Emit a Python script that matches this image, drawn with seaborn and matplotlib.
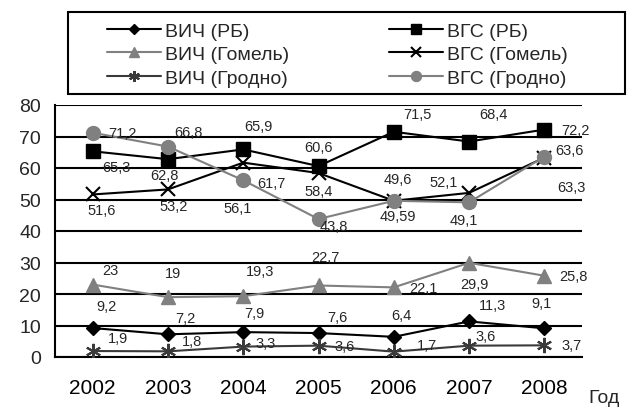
# Line chart: HIV / HCV rates 2002-2008 (РБ, Гомель, Гродно)
import matplotlib
matplotlib.use("Agg")
import matplotlib.pyplot as plt
import seaborn as sns
from matplotlib.patches import Rectangle

# data
years = [2002, 2003, 2004, 2005, 2006, 2007, 2008]
hiv_rb = [9.2, 7.2, 7.9, 7.6, 6.4, 11.3, 9.1]
hiv_gomel = [23, 19, 19.3, 22.7, 22.1, 29.9, 25.8]
hiv_grodno = [1.9, 1.8, 3.3, 3.6, 1.7, 3.6, 3.7]
hcv_rb = [65.3, 62.8, 65.9, 60.6, 71.5, 68.4, 72.2]
hcv_gomel = [51.6, 53.2, 61.7, 58.4, 49.6, 52.1, 63.3]
hcv_grodno = [71.2, 66.8, 56.1, 43.8, 49.59, 49.1, 63.6]
series_names = ["ВИЧ (РБ)", "ВИЧ (Гомель)", "ВИЧ (Гродно)",
                "ВГС (РБ)", "ВГС (Гомель)", "ВГС (Гродно)"]
series_values = [hiv_rb, hiv_gomel, hiv_grodno, hcv_rb, hcv_gomel, hcv_grodno]

# styles: color, marker, size, edge width
styles = [
    ("black", "D", 7.5, 1.0),
    ("#808080", "^", 10, 1.0),
    ("#3a3a3a", (6, 2, 0), 11, 1.5),
    ("black", "s", 10, 1.0),
    ("black", "x", 10, 1.5),
    ("#808080", "o", 10, 1.0),
]

# data label offsets in pixels (dx right, dy down), like Excel placed them
label_offsets = [
    [(14, -22), (17, -16), (11, -19), (19, -16), (8, -22), (23, -16), (-3, -25)],
    [(18, -15), (5, -24), (17, -25), (7, -28), (30, 1), (5, 21), (29, 0)],
    [(25, -13), (24, -10), (22, -4), (26, 0), (33, -7), (17, -10), (27, 0)],
    [(24, 16), (-3, 16), (15, -23), (0, -19), (24, -18), (24, -28), (31, 0)],
    [(9, 16), (6, 17), (28, 20), (0, 18), (4, -22), (-25, -11), (27, 29)],
    [(30, 0), (21, -15), (-6, 28), (15, 7), (4, 15), (-5, 18), (25, -7)],
]

sns.set_style("white")
plt.rcParams["font.family"] = ["Liberation Sans", "DejaVu Sans"]

fig = plt.figure(figsize=(6.32, 4.10), dpi=100)
ax = fig.add_axes([55 / 632, 1 - 358 / 410, (582 - 55) / 632, (358 - 106) / 410])

for i, (name, vals) in enumerate(zip(series_names, series_values)):
    color, marker, ms, mew = styles[i]
    sns.lineplot(x=years, y=vals, ax=ax, color=color, marker=marker,
                 markersize=ms, markeredgecolor=color, markerfacecolor=color,
                 markeredgewidth=mew, linewidth=1.5, label=name, zorder=3 + i)
    for x, v, (dx, dy) in zip(years, vals, label_offsets[i]):
        ax.annotate(f"{v:g}".replace(".", ","), (x, v), xytext=(dx, -dy),
                    textcoords="offset pixels", ha="center", va="center",
                    fontsize=10.5, zorder=10)

handles, labels = ax.get_legend_handles_labels()
ax.get_legend().remove()

ax.set_xlim(2001.5, 2008.5)
ax.set_ylim(0, 80)
ax.set_yticks(range(0, 81, 10))
ax.set_xticks(years)
ax.set_xticks([y + 0.5 for y in [2001] + years], minor=True)
ax.tick_params(axis="x", which="major", length=0, labelsize=15, pad=15, colors="black")
ax.tick_params(axis="x", which="minor", length=6, width=1.5, direction="out", color="black")
ax.tick_params(axis="y", length=7, width=1.5, direction="out", labelsize=14,
               color="black", pad=3)
ax.yaxis.grid(True, color="black", linewidth=1.5, zorder=1)
ax.xaxis.grid(False)
ax.set_xlabel("")
ax.set_ylabel("")
for side in ["top", "right"]:
    ax.spines[side].set_visible(False)
for side in ["left", "bottom"]:
    ax.spines[side].set_color("black")
    ax.spines[side].set_linewidth(1.5)

# legend in a plain box above the plot
fig.patches.append(Rectangle((68 / 632, 1 - 95 / 410), (625 - 68) / 632, (95 - 13) / 410,
                             transform=fig.transFigure, fill=False, ec="black", lw=1.5))
fig.legend(handles, labels, loc="upper left", bbox_to_anchor=(107 / 632, 1 - 23 / 410),
           ncol=2, frameon=False, fontsize=14, borderpad=0, borderaxespad=0,
           markerscale=0.72, handlelength=2.8, handletextpad=0.2,
           columnspacing=5.1, labelspacing=0.3)

fig.text(588 / 632, 1 - 399 / 410, "Год", fontsize=14, va="center", ha="left")

plt.savefig("out.png", dpi=100)
